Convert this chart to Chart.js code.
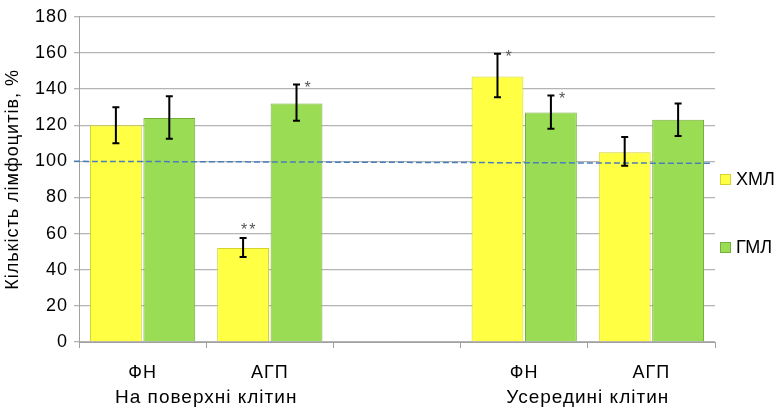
<!DOCTYPE html>
<html>
<head>
<meta charset="utf-8">
<script src="https://cdn.jsdelivr.net/npm/chart.js@4.4.0/dist/chart.umd.min.js"></script>
<style>
  html, body { margin: 0; padding: 0; background: #fff; }
  #wrap { position: relative; width: 781px; height: 411px; }
  #legend { position: absolute; left: 720px; top: 0; font: 18px "Liberation Sans", Arial, sans-serif; color: #000; }
  #legend .item { position: absolute; left: 0; white-space: nowrap; display: flex; align-items: center; }
  #legend .box { width: 11px; height: 11px; margin-right: 5px; box-sizing: border-box; }
</style>
</head>
<body>
<div id="wrap">
  <canvas id="lymphChart" width="781" height="411"></canvas>
  <div id="legend"></div>
</div>
<script>
// categories (empty slot in the middle separates the two groups)
const categories = ['ФН', 'АГП', '', 'ФН', 'АГП'];
// group labels sit on a half-category grid under the category boundaries
const groupLabels = ['', '', 'На поверхні клітин', '', '', '', '', '', 'Усередині клітин', '', ''];

const seriesNames = ['ХМЛ', 'ГМЛ'];
const hmlValues = [120, 52, null, 147, 105];
const gmlValues = [124, 132, null, 127, 123];

// error bars (low / high)
const hmlLow  = [110, 47, null, 135.5, 97.5];
const hmlHigh = [130, 57.5, null, 159.5, 113.5];
const gmlLow  = [112.5, 122.5, null, 118, 114];
const gmlHigh = [136, 142.5, null, 136.5, 132];

// significance marks
const hmlMarks = ['', '**', '', '*', ''];
const gmlMarks = ['', '*', '', '*', ''];

// dashed 100 % reference line (x in category index units)
const refX = [-0.54, 4.48];
const refY = [100, 98.9];

const yTicks = [0, 20, 40, 60, 80, 100, 120, 140, 160, 180];

const colors = ['#ffff44', '#9bdc55'];
const borders = ['#d4d42c', '#76b03c'];

const overlays = {
    id: 'overlays',
    beforeUpdate(chart) { chart.ctx.letterSpacing = '1px'; },
    beforeDraw(chart) { chart.ctx.letterSpacing = '1px'; },
    afterDatasetsDraw(chart) {
        const ctx = chart.ctx;
        const x = chart.scales.x;
        const y = chart.scales.y;

        // reference line
        ctx.save();
        ctx.strokeStyle = '#4a7ebb';
        ctx.lineWidth = 1.5;
        ctx.setLineDash([6, 3]);
        ctx.beginPath();
        ctx.moveTo(x.getPixelForValue(refX[0]), y.getPixelForValue(refY[0]));
        ctx.lineTo(x.getPixelForValue(refX[1]), y.getPixelForValue(refY[1]));
        ctx.stroke();
        ctx.restore();

        // error bars and significance marks
        const sets = [[hmlLow, hmlHigh, hmlMarks], [gmlLow, gmlHigh, gmlMarks]];
        sets.forEach(([lo, hi, marks], di) => {
            const meta = chart.getDatasetMeta(di);
            meta.data.forEach((bar, i) => {
                if (lo[i] == null) return;
                const bx = bar.x;
                const yl = y.getPixelForValue(lo[i]);
                const yh = y.getPixelForValue(hi[i]);
                ctx.save();
                ctx.strokeStyle = '#000';
                ctx.lineWidth = 2;
                ctx.beginPath();
                ctx.moveTo(bx, yl); ctx.lineTo(bx, yh);
                ctx.moveTo(bx - 3.5, yl); ctx.lineTo(bx + 3.5, yl);
                ctx.moveTo(bx - 3.5, yh); ctx.lineTo(bx + 3.5, yh);
                ctx.stroke();
                if (marks[i]) {
                    ctx.fillStyle = '#555';
                    ctx.font = '16px "Liberation Sans", Arial, sans-serif';
                    ctx.textAlign = 'left';
                    ctx.textBaseline = 'top';
                    if (marks[i] === '**') {
                        ctx.letterSpacing = '2px';
                        ctx.fillText(marks[i], bx - 2, yh - 16);
                    } else {
                        ctx.letterSpacing = '0px';
                        ctx.fillText(marks[i], bx + 8, yh - 4);
                    }
                }
                ctx.restore();
            });
        });
        // spacing for the category texts drawn next (x axes, z = 1)
        ctx.letterSpacing = '1.3px';
    }
};

const font18 = { family: '"Liberation Sans", Arial, sans-serif', size: 18 };
const font19 = { family: '"Liberation Sans", Arial, sans-serif', size: 19 };

const ctx = document.getElementById('lymphChart').getContext('2d');
const lymphChart = new Chart(ctx, {
    type: 'bar',
    data: {
        labels: categories,
        datasets: [{
            label: seriesNames[0],
            data: hmlValues,
            xAxisID: 'x',
            backgroundColor: colors[0],
            borderColor: borders[0],
            borderWidth: 1
        }, {
            label: seriesNames[1],
            data: gmlValues,
            xAxisID: 'x',
            backgroundColor: colors[1],
            borderColor: borders[1],
            borderWidth: 1
        }]
    },
    options: {
        responsive: false,
        animation: false,
        datasets: { bar: { categoryPercentage: 0.84, barPercentage: 0.97 } },
        layout: { padding: { top: 15, right: 66, bottom: 0, left: 0 } },
        plugins: {
            legend: { display: false },
            tooltip: { enabled: false }
        },
        scales: {
            x: {
                position: 'bottom',
                offset: true,
                z: 1,
                afterFit: (axis) => { axis.height = 40; },
                grid: { offset: true, drawOnChartArea: false, tickLength: 6, color: '#a0a0a0' },
                border: { color: '#a0a0a0' },
                ticks: { color: '#000', padding: 14, font: font18 }
            },
            xg: {
                type: 'category',
                labels: groupLabels,
                position: 'bottom',
                offset: false,
                z: 1,
                afterFit: (axis) => { axis.height = 29; },
                grid: { display: false, drawTicks: false },
                border: { display: false },
                ticks: { autoSkip: false, maxRotation: 0, padding: 4, color: '#000', font: font19 }
            },
            y: {
                min: 0,
                max: 180,
                afterBuildTicks: (axis) => { axis.ticks = yTicks.map(v => ({ value: v })); },
                afterFit: (axis) => { axis.width = 79; },
                grid: { color: '#b4b4b4', tickLength: 5, lineWidth: 1.3 },
                border: { color: '#a0a0a0' },
                ticks: { color: '#000', padding: 6, font: font18 },
                title: {
                    display: true,
                    text: 'Кількість лімфоцитів, %',
                    color: '#000',
                    padding: { top: 2, bottom: 2 },
                    font: font18
                }
            }
        }
    },
    plugins: [overlays]
});

// legend
const legend = document.getElementById('legend');
const legendTops = [169, 237];
seriesNames.forEach((name, i) => {
    const item = document.createElement('div');
    item.className = 'item';
    item.style.top = legendTops[i] + 'px';
    item.innerHTML = '<span class="box" style="background:' + colors[i] + ';border:1px solid ' + borders[i] + '"></span>' + name;
    legend.appendChild(item);
});
</script>
</body>
</html>
